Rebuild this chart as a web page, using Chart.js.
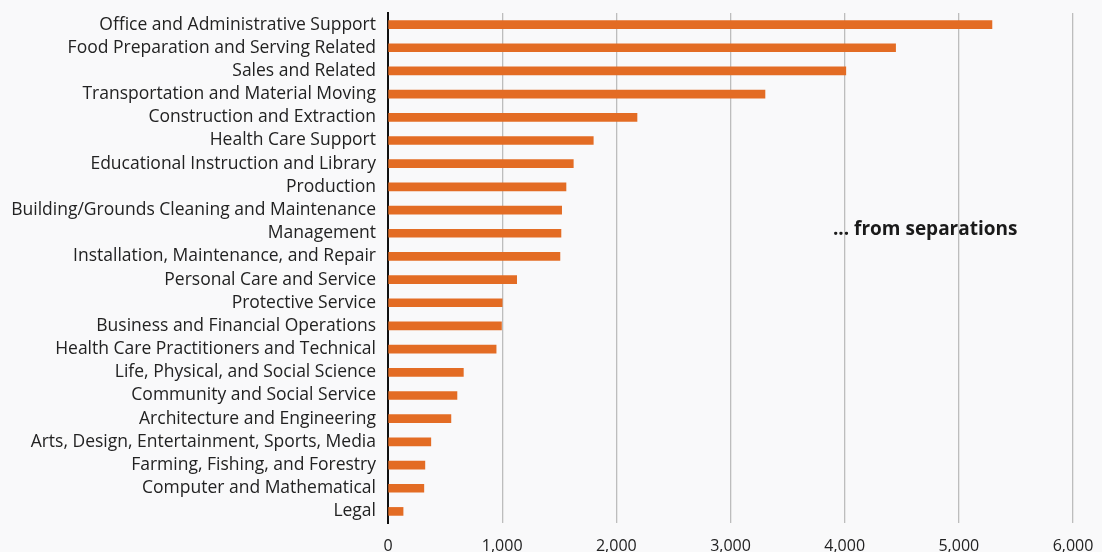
<!DOCTYPE html>
<html>
<head>
<meta charset="utf-8">
<script src="https://cdn.jsdelivr.net/npm/chart.js@4.4.0/dist/chart.umd.min.js"></script>
<style>
  html, body { margin: 0; padding: 0; background: #f9f9fa; }
  #wrap { width: 1102px; height: 552px; }
</style>
</head>
<body>
<div id="wrap"><canvas id="sepChart" width="1102" height="552"></canvas></div>
<script>
const occupations = [
    "Office and Administrative Support",
    "Food Preparation and Serving Related",
    "Sales and Related",
    "Transportation and Material Moving",
    "Construction and Extraction",
    "Health Care Support",
    "Educational Instruction and Library",
    "Production",
    "Building/Grounds Cleaning and Maintenance",
    "Management",
    "Installation, Maintenance, and Repair",
    "Personal Care and Service",
    "Protective Service",
    "Business and Financial Operations",
    "Health Care Practitioners and Technical",
    "Life, Physical, and Social Science",
    "Community and Social Service",
    "Architecture and Engineering",
    "Arts, Design, Entertainment, Sports, Media",
    "Farming, Fishing, and Forestry",
    "Computer and Mathematical",
    "Legal"
]
const separations = [5290, 4446, 4010, 3302, 2181, 1798, 1623, 1559, 1521, 1515, 1506,
    1127, 1000, 994, 947, 660, 604, 551, 375, 323, 314, 132]
const xTicks = [0, 1000, 2000, 3000, 4000, 5000, 6000]
const noteText = "... from separations"

const noteLabel = {
    id: 'noteLabel',
    afterDatasetsDraw(chart) {
        const { ctx, scales: { x, y } } = chart
        ctx.save()
        ctx.font = "bold 19px 'Open Sans'"
        ctx.fillStyle = '#1a1a1a'
        ctx.textAlign = 'left'
        ctx.textBaseline = 'middle'
        ctx.fillText(noteText, x.getPixelForValue(3897), y.getPixelForValue(9) - 4)
        ctx.restore()
    }
}

const config = {
    type: "bar",
    data: {
        labels: occupations,
        datasets: [
            {
                label: "Separations",
                data: separations,
                backgroundColor: "#e36c24",
                borderWidth: 0,
                barThickness: 8
            }
        ]
    },
    options: {
        indexAxis: 'y',
        responsive: false,
        animation: false,
        layout: { padding: { top: 13, left: 8, right: 29, bottom: 0 } },
        plugins: {
            legend: { display: false },
            tooltip: { enabled: false }
        },
        scales: {
            x: {
                min: 0,
                max: 6000,
                afterBuildTicks(axis) {
                    axis.ticks = xTicks.map(v => ({ value: v }))
                },
                afterFit(axis) {
                    axis.height = 29
                    axis.paddingRight = 0
                    axis.paddingLeft = 0
                },
                grid: {
                    color: '#bdbdbd',
                    lineWidth: 1.3,
                    drawTicks: false
                },
                border: { display: false },
                ticks: {
                    color: '#222',
                    font: { family: "'Open Sans'", size: 16 },
                    padding: 14,
                    maxRotation: 0,
                    callback: v => v.toLocaleString('en-US')
                }
            },
            y: {
                afterFit(axis) {
                    axis.width = 380
                    axis.paddingTop = 0
                    axis.paddingBottom = 0
                },
                grid: { display: false, drawTicks: false },
                border: { display: true, color: '#111', width: 2 },
                ticks: {
                    color: '#222',
                    font: { family: "'Open Sans'", size: 17.5 },
                    padding: 12,
                    autoSkip: false
                }
            }
        }
    },
    plugins: [noteLabel]
}

document.fonts.load("16px 'Open Sans'").then(() => document.fonts.load("bold 19px 'Open Sans'")).then(() => {
    new Chart(document.getElementById("sepChart"), config)
})
</script>
</body>
</html>
